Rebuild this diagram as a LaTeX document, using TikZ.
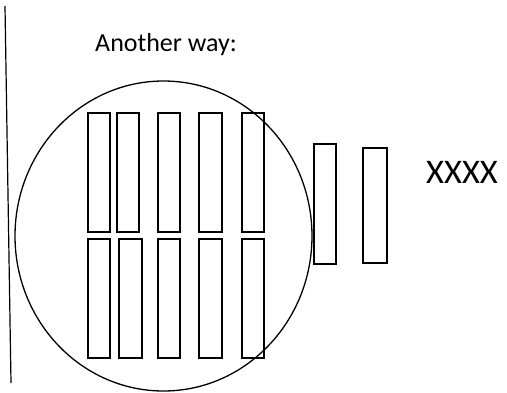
\documentclass[tikz,border=0pt]{standalone}
\usepackage{fontspec}
\setmainfont{Carlito}
\begin{document}
\begin{tikzpicture}[x=1pt,y=-1pt,line join=miter,
	bar/.style={draw,line width=2pt},
	rim/.style={draw,line width=1.3pt}]
	\useasboundingbox (0,0) rectangle (507,392);
	\draw[line width=1.2pt] (5,6) coordinate (T)--(11,383) coordinate (U);
	\node[font=\fontsize{26}{31}\selectfont,anchor=base west,inner sep=0pt] (title) at (95,51.7) {Another way:};
	\draw[rim] (163.5,236) ellipse (148.5 and 155);
	% two rows of bars in the circle
	\foreach \a/\b in {88/110,117/139,158/180,199/222,242/264}
		\draw[bar] (\a,113) rectangle (\b,232);
	\foreach \a/\b in {88/110,119/142,158/180,199/222,242/264}
		\draw[bar] (\a,239) rectangle (\b,358);
	\draw[bar] (313.5,144) rectangle (336,264);
	\draw[bar] (363,148) rectangle (386.5,263);
	\node[font=\fontsize{34.5}{41}\selectfont,anchor=base west,inner sep=0pt] (mark) at (426,183.3) {XXXX};
\end{tikzpicture}
\end{document}
